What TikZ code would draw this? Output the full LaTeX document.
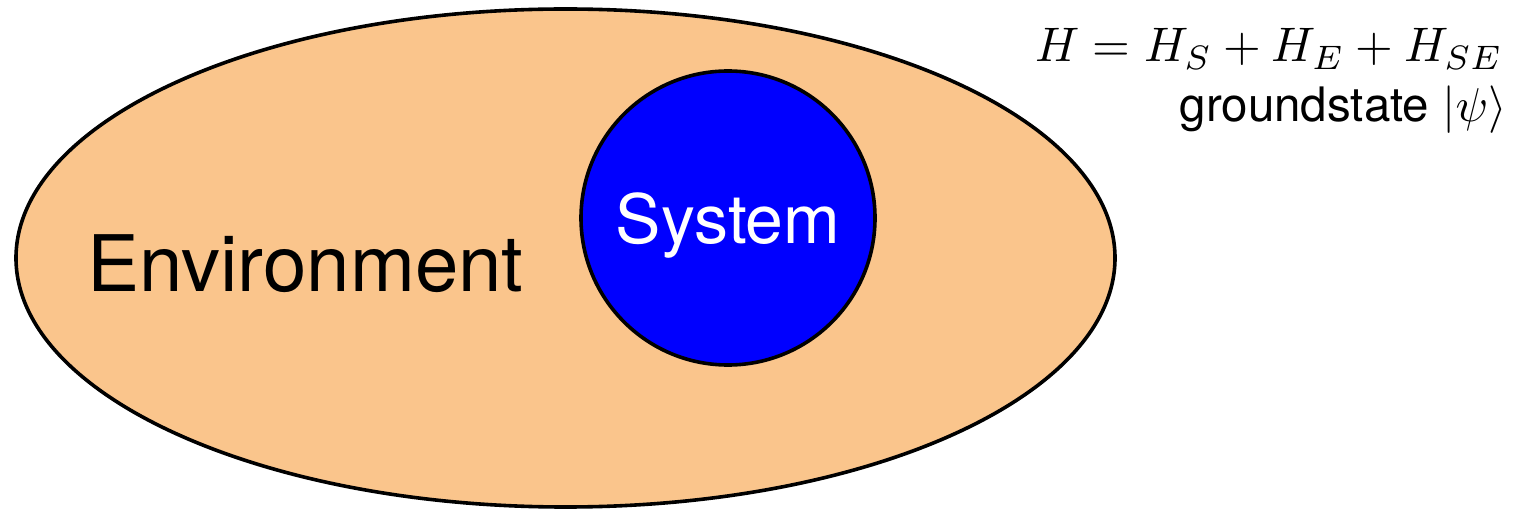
\documentclass[tikz,border=0pt]{standalone}
\usepackage{fontspec}
\setsansfont{TeX Gyre Heros}
\definecolor{envfill}{RGB}{250,197,140}
\definecolor{sysfill}{RGB}{0,0,255}
\tikzset{
  shapeline/.style={draw=black, line width=3.6pt},
  bigtext/.style={font=\sffamily\fontsize{78}{90}\selectfont, inner sep=0pt},
  systext/.style={font=\sffamily\fontsize{68}{80}\selectfont, text=white, inner sep=0pt},
  eqtext/.style={inner sep=0pt, anchor=base east},
}
\begin{document}
\begin{tikzpicture}[x=1pt,y=1pt]
\useasboundingbox (0,0) rectangle (1526,509);
\path[shapeline, fill=envfill] (565.5,251) ellipse [x radius=549.5, y radius=249];
\node[shapeline, fill=sysfill, circle, minimum size=294pt, inner sep=0pt] (sys) at (728,291) {};
\node[bigtext, anchor=base west] (env) at (87,217) {Environment};
\node[systext, anchor=base] (systxt) at (728,265) {System};
\node[eqtext] (eq) at (1503,447) {\scalebox{4.85}{$H = H_S + H_E + H_{SE}$}};
\node[eqtext] (gs) at (1507,387) {\scalebox{4.75}{\sffamily groundstate $|\psi\rangle$}};
\end{tikzpicture}
\end{document}
